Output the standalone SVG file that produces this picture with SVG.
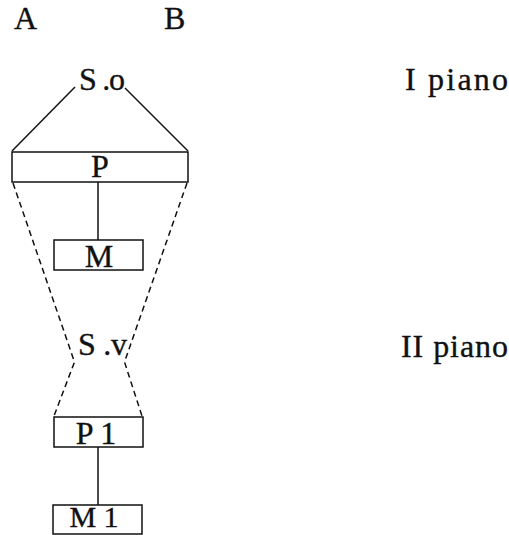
<svg xmlns="http://www.w3.org/2000/svg" width="509" height="535" viewBox="0 0 509 535">
<style>
text{font-family:"Liberation Serif","Times New Roman",serif;font-size:32px;fill:#111;stroke:#111;stroke-width:0.35}
.c{text-anchor:middle}
.box{fill:#fff;stroke:#111;stroke-width:1.5}
.ln{stroke:#111;stroke-width:1.5;fill:none}
.dash{stroke:#111;stroke-width:1.5;fill:none;stroke-dasharray:6 4}
</style>
<rect width="509" height="535" fill="#fff"/>
<g id="labels">
<text x="14" y="29">A</text>
<text x="164" y="29">B</text>
<text x="405" y="90" textLength="103" lengthAdjust="spacing">I piano</text>
<text x="401" y="357" textLength="107" lengthAdjust="spacing">II piano</text>
</g>
<g id="connectors">
<line class="ln" x1="75" y1="87" x2="12" y2="151"/>
<line class="ln" x1="125" y1="88" x2="188" y2="151"/>
<line class="ln" x1="98" y1="182" x2="98" y2="240"/>
<polyline class="dash" points="13,183 74.5,362 54,416"/>
<polyline class="dash" points="187,183 124.5,362 142,416"/>
<line class="ln" x1="98" y1="447" x2="98" y2="505"/>
</g>
<g id="So"><text x="79" y="90" textLength="46" lengthAdjust="spacing">S .o</text></g>
<g id="P"><rect class="box" x="12" y="152" width="176" height="30"/><text class="c" x="100" y="177">P</text></g>
<g id="M"><rect class="box" x="54" y="240" width="89" height="30"/><text class="c" x="99" y="267">M</text></g>
<g id="Sv"><text x="78" y="355" textLength="49" lengthAdjust="spacing">S .v</text></g>
<g id="P1"><rect class="box" x="54" y="417" width="89" height="30"/><text class="c" x="96" y="444">P 1</text></g>
<g id="M1"><rect class="box" x="53" y="505" width="89" height="29"/><text class="c" x="94" y="527" style="font-size:30px">M 1</text></g>
</svg>
